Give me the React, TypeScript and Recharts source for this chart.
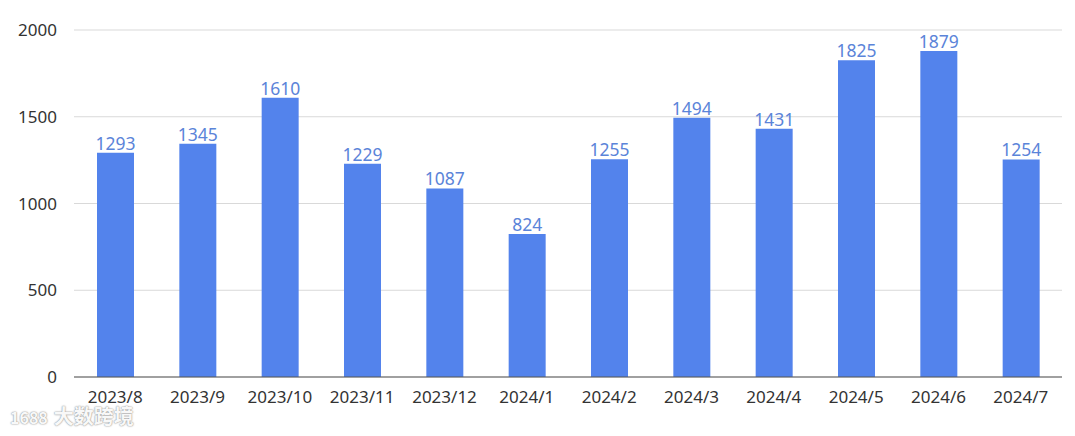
import { BarChart, Bar, XAxis, YAxis, CartesianGrid, LabelList } from "recharts";

const months = [
  "2023/8", "2023/9", "2023/10", "2023/11", "2023/12", "2024/1",
  "2024/2", "2024/3", "2024/4", "2024/5", "2024/6", "2024/7",
];
const values = [1293, 1345, 1610, 1229, 1087, 824, 1255, 1494, 1431, 1825, 1879, 1254];
const yTicks = [0, 500, 1000, 1500, 2000];

const data = months.map((m, i) => ({ month: m, value: values[i] }));

const font = '"Noto Sans", "Noto Sans CJK SC", sans-serif';

export default function App() {
  return (
    <div style={{ position: "absolute", left: 0, top: 0, width: 1075, height: 436, background: "#fff" }}>
      <BarChart
        width={1075}
        height={436}
        data={data}
        margin={{ top: 30, right: 13, left: 0, bottom: 29 }}
        barSize={37}
      >
        <CartesianGrid vertical={false} stroke="#d9d9d9" />
        <YAxis
          width={74}
          domain={[0, 2000]}
          ticks={yTicks}
          axisLine={false}
          tickLine={false}
          tickSize={0}
          tickMargin={17}
          tick={{ fill: "#333", fontSize: 17, fontFamily: font }}
        />
        <XAxis
          dataKey="month"
          height={30}
          axisLine={{ stroke: "#555" }}
          tickLine={false}
          tickSize={0}
          tickMargin={14}
          interval={0}
          tick={{ fill: "#333", fontSize: 17, fontFamily: font }}
        />
        <Bar dataKey="value" fill="#5383EC" isAnimationActive={false}>
          <LabelList
            dataKey="value"
            position="top"
            offset={3}
            fill="#5B84D9"
            fontSize={17.5}
            fontFamily={font}
          />
        </Bar>
      </BarChart>
      <div
        style={{
          position: "absolute",
          left: 10,
          top: 401,
          fontFamily: '"Noto Sans CJK SC", sans-serif',
          fontSize: 20,
          fontWeight: 700,
          color: "rgba(255,255,255,0.95)",
          textShadow: "0 0 2px #999, 0 0 1px #999",
        }}
      >
        <span style={{ fontSize: 16, marginRight: 6 }}>1688</span>大数跨境
      </div>
    </div>
  );
}
